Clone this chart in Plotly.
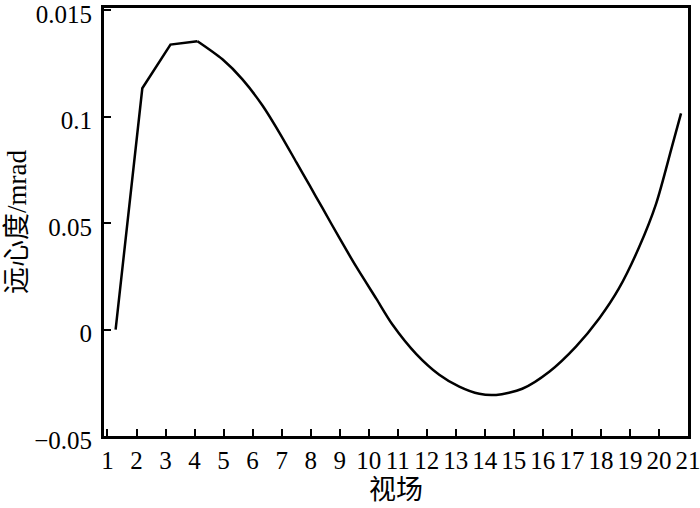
import plotly.graph_objects as go

# Data
field = [1.28, 2.20, 3.17, 4.10, 4.96, 5.65, 6.34, 6.92, 7.51, 7.95, 8.40, 8.99,
         9.57, 10.26, 10.81, 11.64, 12.43, 13.12, 13.81, 14.39, 15.29, 16.22,
         17.14, 17.94, 18.62, 19.31, 19.90, 20.45, 20.76]
telecentricity = [0.0, 0.1133, 0.1338, 0.1354, 0.1269, 0.1175, 0.1052, 0.0925,
                  0.0785, 0.0680, 0.0572, 0.0430, 0.0295, 0.0145, 0.0025, -0.0115,
                  -0.0212, -0.0268, -0.0302, -0.0307, -0.0278, -0.0198, -0.0080,
                  0.0052, 0.0193, 0.0385, 0.0590, 0.0860, 0.1015]

x_ticks = list(range(1, 22))
y_tickvals = [-0.05, 0, 0.05, 0.1, 0.15]
y_ticktext = ["\u22120.05", "0", "0.05", "0.1", "0.015"]

font_family = "Liberation Serif, Times New Roman, Noto Sans CJK SC, serif"
title_family = "Liberation Serif, Noto Sans CJK SC, serif"

n_lin = 4  # first points joined by straight segments, rest is a smooth curve

fig = go.Figure()
fig.add_trace(go.Scatter(
    x=field[:n_lin], y=telecentricity[:n_lin], mode="lines",
    line=dict(color="black", width=2.5),
    showlegend=False,
))
fig.add_trace(go.Scatter(
    x=field[n_lin - 1:], y=telecentricity[n_lin - 1:], mode="lines",
    line=dict(color="black", width=2.5, shape="spline", smoothing=0.8),
    showlegend=False,
))

fig.update_layout(
    width=700, height=508,
    margin=dict(l=104, r=12, t=8, b=72),
    paper_bgcolor="white", plot_bgcolor="white",
    font=dict(family=font_family, size=25, color="black"),
    xaxis=dict(
        range=[0.88, 21.0],
        tickvals=x_ticks,
        ticktext=[str(v) for v in x_ticks],
        ticks="inside", ticklen=7, tickwidth=2, tickcolor="black",
        showline=True, linecolor="black", linewidth=3, mirror=True,
        showgrid=False, zeroline=False, automargin=False,
        ticklabeloverflow="allow",
        tickfont=dict(family=font_family, size=25),
        title=dict(text="视场", font=dict(family=title_family, size=27), standoff=8),
    ),
    yaxis=dict(
        range=[-0.05, 0.151],
        tickvals=y_tickvals,
        ticktext=y_ticktext,
        ticks="inside", ticklen=7, tickwidth=2, tickcolor="black",
        showline=True, linecolor="black", linewidth=3, mirror=True,
        showgrid=False, zeroline=False, automargin=False,
        ticklabeloverflow="allow",
        ticklabelshift=4,
        tickfont=dict(family=font_family, size=25),
        ticklabelstandoff=4,
        title=dict(text="远心度/mrad", font=dict(family=title_family, size=27), standoff=0),
    ),
)

fig.write_html(
    "out.html",
    config={"displayModeBar": False},
    post_script="document.body.style.margin='0';document.body.style.overflow='hidden';",
)
